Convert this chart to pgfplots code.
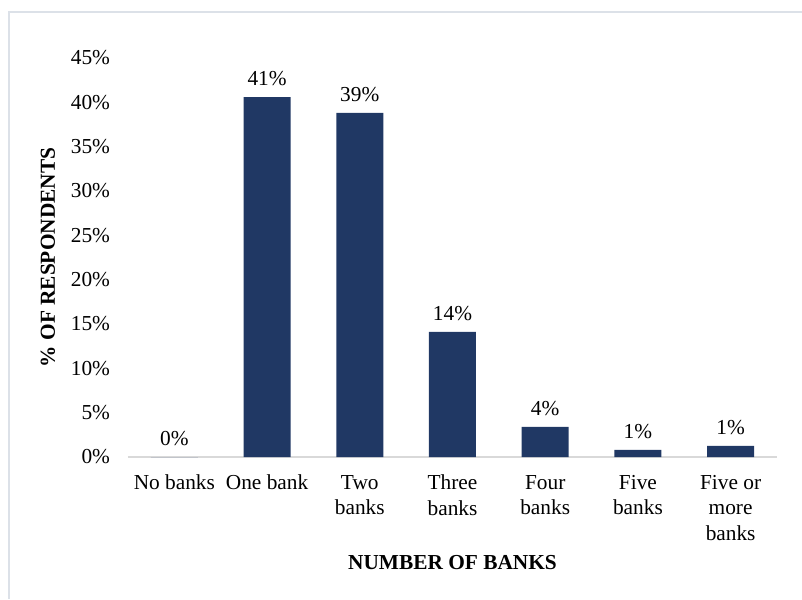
\documentclass[border=0pt]{standalone}
\usepackage{pgfplots}
\pgfplotsset{compat=1.18}
\usepackage{fontspec}
\setmainfont{Liberation Serif}
\definecolor{barblue}{HTML}{203864}
\definecolor{axisgray}{HTML}{D9D9D9}
\definecolor{framegray}{HTML}{DCE1E8}

\begin{document}
\begin{tikzpicture}
% canvas: 802 x 599 px at 0.75pt per px, axis origin at (128,457) px
\useasboundingbox (-96pt,-106.5pt) rectangle (505.5pt,342.75pt);
\draw[framegray, line width=1.1pt] (-89.25pt,-106.5pt) -- (-89.25pt,333.75pt) -- (505.5pt,333.75pt);

\begin{axis}[
    at={(0,0)}, anchor=south west,
    width=486.75pt, height=299.25pt,
    scale only axis,
    ybar, bar width=35.25pt,
    xmin=-0.5, xmax=6.5,
    ymin=0, ymax=45,
    xtick={0,1,2,3,4,5,6},
    xticklabels={No banks, One bank, Two\\banks, Three\\banks, Four\\banks, Five\\banks, Five or\\more\\banks},
    xticklabel style={align=center, font=\fontsize{16pt}{19.2pt}\selectfont, yshift=-10pt},
    ytick={0,5,10,15,20,25,30,35,40,45},
    yticklabels={0\%,5\%,10\%,15\%,20\%,25\%,30\%,35\%,40\%,45\%},
    yticklabel style={font=\fontsize{16pt}{19.2pt}\selectfont, xshift=-10pt},
    major tick length=0pt,
    axis y line*=left,
    axis x line*=bottom,
    y axis line style={draw=none},
    x axis line style={axisgray, line width=1.1pt, -},
    ylabel={\textbf{\% OF RESPONDENTS}},
    xlabel={\textbf{NUMBER OF BANKS}},
    every axis y label/.style={at={(axis description cs:-0.1233,0.5)}, rotate=90, anchor=center, font=\fontsize{16pt}{19.2pt}\selectfont},
    every axis x label/.style={at={(axis description cs:0.5,-0.2657)}, anchor=center, font=\fontsize{16pt}{19.2pt}\selectfont},
    point meta=explicit symbolic,
    nodes near coords,
    every node near coord/.append style={font=\fontsize{16pt}{19.2pt}\selectfont, black, yshift=5pt},
]
\addplot[fill=barblue, draw=none] coordinates {
    (0,0) [0\%]
    (1,40.6) [41\%]
    (2,38.8) [39\%]
    (3,14.1) [14\%]
    (4,3.4) [4\%]
    (5,0.8) [1\%]
    (6,1.25) [1\%]
};
\end{axis}
\end{tikzpicture}
\end{document}
